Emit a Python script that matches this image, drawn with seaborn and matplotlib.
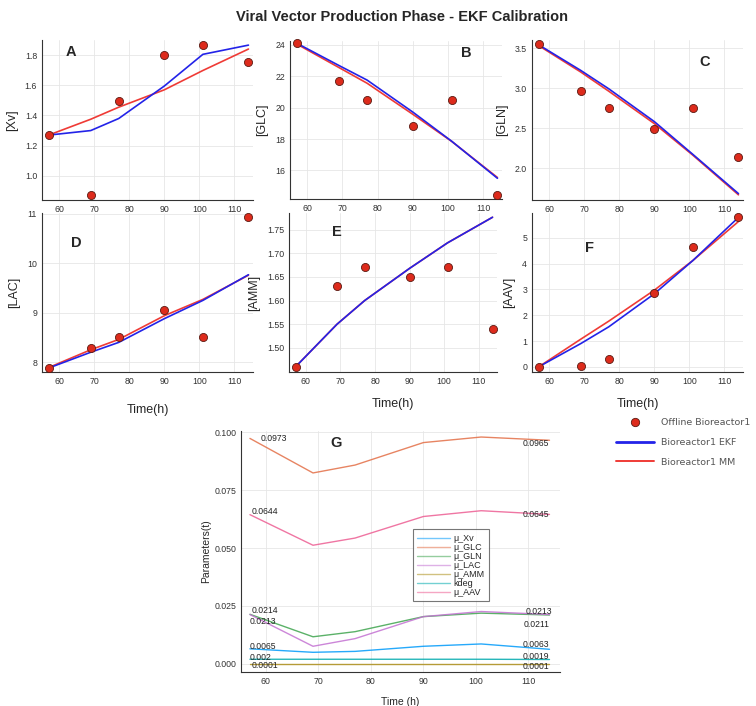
import numpy as np
import pandas as pd
import matplotlib
matplotlib.use("Agg")
import matplotlib.pyplot as plt
from matplotlib.lines import Line2D
import seaborn as sns

# ---------------- data ----------------
times = [57, 69, 77, 90, 101, 114]

xv_off = [1.268, 0.875, 1.494, 1.800, 1.864, 1.756]
xv_ekf = [1.27, 1.30, 1.38, 1.595, 1.805, 1.866]
xv_mm = [1.27, 1.375, 1.455, 1.57, 1.698, 1.84]

glc_off = [24.10, 21.68, 20.49, 18.83, 20.49, 14.41]
glc_ekf = [24.10, 22.68, 21.75, 19.71, 17.86, 15.50]
glc_mm = [24.05, 22.55, 21.55, 19.57, 17.85, 15.55]

gln_off = [3.545, 2.96, 2.75, 2.49, 2.75, 2.135]
gln_ekf = [3.54, 3.22, 2.99, 2.58, 2.17, 1.68]
gln_mm = [3.53, 3.20, 2.96, 2.555, 2.16, 1.665]

lac_off = [7.89, 8.29, 8.50, 9.06, 8.50, 10.94]
lac_ekf = [7.88, 8.20, 8.40, 8.88, 9.25, 9.77]
lac_mm = [7.89, 8.25, 8.46, 8.94, 9.27, 9.76]

amm_off = [1.46, 1.63, 1.67, 1.65, 1.67, 1.54]
amm_ekf = [1.46, 1.550, 1.600, 1.668, 1.722, 1.776]
amm_mm = [1.46, 1.550, 1.600, 1.668, 1.722, 1.776]

aav_off = [0.0, 0.02, 0.30, 2.87, 4.64, 5.79]
aav_ekf = [0.0, 0.90, 1.55, 2.83, 4.12, 5.79]
aav_mm = [0.0, 1.07, 1.77, 2.97, 4.12, 5.63]

panel_labels = ["A", "B", "C", "D", "E", "F"]
ylabels = ["[Xv]", "[GLC]", "[GLN]", "[LAC]", "[AMM]", "[AAV]"]

param_names = ["\u03bc_Xv", "\u03bc_GLC", "\u03bc_GLN", "\u03bc_LAC", "\u03bc_AMM", "kdeg", "\u03bc_AAV"]
mu_xv = [0.0065, 0.0050, 0.0054, 0.0076, 0.0086, 0.0063]
mu_glc = [0.0973, 0.0824, 0.0858, 0.0955, 0.0979, 0.0965]
mu_gln = [0.0214, 0.0117, 0.0139, 0.0204, 0.0219, 0.0211]
mu_lac = [0.0213, 0.0076, 0.0109, 0.0204, 0.0226, 0.0213]
mu_amm = [0.0001, 0.0001, 0.0001, 0.0001, 0.0001, 0.0001]
kdeg = [0.0020, 0.0020, 0.0020, 0.0020, 0.0020, 0.0019]
mu_aav = [0.0644, 0.0512, 0.0543, 0.0636, 0.0661, 0.0645]
start_labels = ["0.0065", "0.0973", "0.0213", "0.0214", "0.0001", "0.002", "0.0644"]
end_labels = ["0.0063", "0.0965", "0.0211", "0.0213", "0.0001", "0.0019", "0.0645"]

# ---------------- style ----------------
sns.set_style("whitegrid", {"grid.color": "#e6e6e6", "axes.edgecolor": "#333333"})
plt.rcParams["font.family"] = ["Liberation Sans", "DejaVu Sans"]

W, H = 756, 706
fig = plt.figure(figsize=(W / 100, H / 100), dpi=100)


def add_ax(l, t, r, b):
    return fig.add_axes([l / W, (H - b) / H, (r - l) / W, (b - t) / H])


EKF_C = "#2323e8"
MM_C = "#ef3b36"
PT_C = "#dd2b1c"

boxes = [(42, 40, 253, 200), (290, 41, 502, 199), (532, 40, 743, 200),
         (42, 213, 253, 372), (289, 213, 497, 372), (532, 213, 743, 372)]
ylims = [(0.84, 1.90), (14.18, 24.24), (1.60, 3.60), (7.80, 11.02), (1.449, 1.785), (-0.2, 5.96)]
yticks = [[1.0, 1.2, 1.4, 1.6, 1.8], [16, 18, 20, 22, 24], [2.0, 2.5, 3.0, 3.5],
          [8, 9, 10, 11], [1.50, 1.55, 1.60, 1.65, 1.70, 1.75], [0, 1, 2, 3, 4, 5]]
yfmt = ["{:.1f}", "{:.0f}", "{:.1f}", "{:.0f}", "{:.2f}", "{:.0f}"]
letter_pos = [(0.137, 0.925), (0.833, 0.926), (0.82, 0.864), (0.164, 0.813), (0.229, 0.879), (0.272, 0.782)]
data = [(xv_off, xv_ekf, xv_mm), (glc_off, glc_ekf, glc_mm), (gln_off, gln_ekf, gln_mm),
        (lac_off, lac_ekf, lac_mm), (amm_off, amm_ekf, amm_mm), (aav_off, aav_ekf, aav_mm)]
xlabel_pads = [None, None, None, 13, 9, 9]

for i, (box, (off, ekf, mm)) in enumerate(zip(boxes, data)):
    ax = add_ax(*box)
    sns.lineplot(x=times, y=mm, ax=ax, color=MM_C, lw=1.2, estimator=None, sort=False)
    sns.lineplot(x=times, y=ekf, ax=ax, color=EKF_C, lw=1.2, estimator=None, sort=False)
    sns.scatterplot(x=times, y=off, ax=ax, color=PT_C, s=34, edgecolor="#5a1a12",
                    linewidth=0.6, zorder=5, clip_on=False)
    ax.set_xlim(55.1, 115.3)
    ax.set_ylim(*ylims[i])
    ax.set_xticks([60, 70, 80, 90, 100, 110])
    ax.set_yticks(yticks[i])
    ax.set_yticklabels([yfmt[i].format(v) for v in yticks[i]])
    ax.tick_params(labelsize=6.3, length=2, width=0.6, pad=1.5, colors="#333333")
    for s in ["top", "right"]:
        ax.spines[s].set_visible(False)
    for s in ["left", "bottom"]:
        ax.spines[s].set_linewidth(0.8)
    ax.grid(True, color="#e6e6e6", lw=0.6)
    ax.set_ylabel(ylabels[i], fontsize=9, labelpad=5)
    if xlabel_pads[i] is not None:
        ax.set_xlabel("Time(h)", fontsize=9, labelpad=xlabel_pads[i])
    ax.text(letter_pos[i][0], letter_pos[i][1], panel_labels[i], transform=ax.transAxes,
            fontsize=10.5, fontweight="bold", ha="center", va="center")

# ---------------- panel G ----------------
axg = add_ax(241, 431, 560, 672)
palette = ["#009AFA", "#E36F47", "#3EA44E", "#C371D2", "#AC8E18", "#00AAAE", "#ED5E93"]
series = [mu_xv, mu_glc, mu_gln, mu_lac, mu_amm, kdeg, mu_aav]
df = pd.DataFrame({"time": times * len(series),
                   "value": sum(series, []),
                   "param": sum([[n] * len(times) for n in param_names], [])})
sns.lineplot(data=df, x="time", y="value", hue="param", hue_order=param_names,
             palette=palette, ax=axg, lw=1.0, alpha=0.85, estimator=None, sort=False, legend=False)
axg.set_xlim(55.3, 116)
axg.set_ylim(-0.0035, 0.1005)
axg.set_xticks([60, 70, 80, 90, 100, 110])
axg.set_yticks([0.0, 0.025, 0.05, 0.075, 0.1])
axg.set_yticklabels(["0.000", "0.025", "0.050", "0.075", "0.100"])
axg.tick_params(labelsize=6.3, length=2, width=0.6, pad=1.5, colors="#333333")
for s in ["top", "right"]:
    axg.spines[s].set_visible(False)
axg.grid(True, color="#e6e6e6", lw=0.6)
axg.set_ylabel("Parameters(t)", fontsize=7.5, labelpad=2)
axg.set_xlabel("Time (h)", fontsize=7.5, labelpad=8)
axg.text(0.297, 0.951, "G", transform=axg.transAxes, fontsize=10.5, fontweight="bold",
         ha="center", va="center")

# start/end annotations (offsets in points)
start_off = [(0, 1.5), (8, 0), (0, -5), (1, 3), (1, -1), (0, 1.5), (1, 2.5)]
end_off = [(0, 3.5), (0, -2.5), (0, -6.5), (2, 2), (0, -1.8), (0, 2.5), (0, 0)]
for k, ser in enumerate(series):
    axg.annotate(start_labels[k], (times[0], ser[0]), xytext=start_off[k], textcoords="offset points",
                 fontsize=6.2, ha="left", va="center", color="#222222")
    axg.annotate(end_labels[k], (times[-1], ser[-1]), xytext=end_off[k], textcoords="offset points",
                 fontsize=6.2, ha="right", va="center", color="#222222")

handles = [Line2D([0], [0], color=c, lw=1.0, alpha=0.55) for c in palette]
leg = axg.legend(handles, param_names, loc="upper left", bbox_to_anchor=(0.539, 0.592),
                 fontsize=6.5, frameon=True, fancybox=False, edgecolor="#555555",
                 handlelength=3.6, handletextpad=0.4, labelspacing=0.0, borderpad=0.5,
                 borderaxespad=0)
leg.get_frame().set_linewidth(0.8)

# ---------------- figure legend ----------------
fh = [Line2D([0], [0], marker="o", ls="none", markerfacecolor=PT_C, markeredgecolor="#5a1a12",
             markersize=6, markeredgewidth=0.6),
      Line2D([0], [0], color=EKF_C, lw=2.0),
      Line2D([0], [0], color=MM_C, lw=1.4)]
fleg = fig.legend(fh, ["Offline Bioreactor1", "Bioreactor1 EKF", "Bioreactor1 MM"],
                  loc="upper left", bbox_to_anchor=(616 / W, (H - 418) / H), frameon=False,
                  prop={"family": "DejaVu Sans", "size": 6.8}, labelcolor="#555555",
                  handlelength=4.0, handletextpad=0.8, labelspacing=1.15, borderaxespad=0,
                  borderpad=0)

fig.text(402 / W, 1 - 17 / H, "Viral Vector Production Phase - EKF Calibration",
         ha="center", va="center", fontsize=10.5, fontweight="bold")

fig.savefig("out.png", dpi=100)
